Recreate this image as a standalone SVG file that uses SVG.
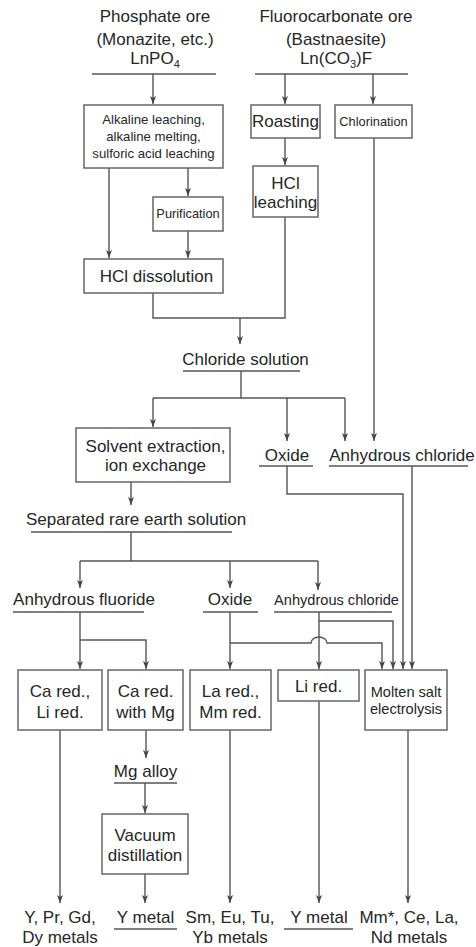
<svg xmlns="http://www.w3.org/2000/svg" width="476" height="947" viewBox="0 0 476 947">
<defs>
<style>
text{font-family:"Liberation Sans",Arial,sans-serif;fill:#262626;text-anchor:middle;font-size:17px}
.s13{font-size:13.2px}
.s12{font-size:12.8px}
.s14{font-size:14.6px}
.box{fill:#fff;stroke:#666;stroke-width:1.5}
.ln{fill:none;stroke:#555;stroke-width:1.4}
.ar{fill:none;stroke:#555;stroke-width:1.4;marker-end:url(#ah)}
</style>
<marker id="ah" viewBox="0 0 8 8" markerWidth="8" markerHeight="8" refX="8" refY="4" orient="auto" markerUnits="userSpaceOnUse">
<path d="M0,1 L8,4 L0,7 L2,4 z" fill="#444"/>
</marker>
</defs>
<rect width="476" height="947" fill="#fff"/>

<g id="connectors">
<path class="ar" d="M153,74 V104"/>
<path class="ar" d="M285,74 V104"/>
<path class="ar" d="M373,74 V104"/>
<path class="ar" d="M285,138 V165"/>
<path class="ar" d="M188,168 V196"/>
<path class="ar" d="M109,168 V258"/>
<path class="ar" d="M188,231 V258"/>
<path class="ln" d="M153,293 V318 H285 V217"/>
<path class="ar" d="M240,318 V344"/>
<path class="ln" d="M241,371 V398"/>
<path class="ln" d="M153,398 H345"/>
<path class="ar" d="M153,398 V427"/>
<path class="ar" d="M287,398 V441"/>
<path class="ar" d="M345,398 V441"/>
<path class="ar" d="M374,138 V441"/>
<path class="ar" d="M287,466 V494 H403 V669"/>
<path class="ar" d="M412,466 V669"/>
<path class="ar" d="M131,482 V505"/>
<path class="ln" d="M131,532 V561"/>
<path class="ln" d="M80,561 H318"/>
<path class="ar" d="M80,561 V588"/>
<path class="ar" d="M230,561 V588"/>
<path class="ar" d="M318,561 V590"/>
<path class="ar" d="M80,612 V669"/>
<path class="ar" d="M80,640 H146 V669"/>
<path class="ar" d="M230,612 V669"/>
<path class="ar" d="M230,643 H311 A8,6 0 0 1 327,643 H382 V669"/>
<path class="ar" d="M319,612 V669"/>
<path class="ar" d="M319,621 H393 V669"/>
<path class="ar" d="M60,730 V903"/>
<path class="ar" d="M146,730 V758"/>
<path class="ar" d="M145,783 V813"/>
<path class="ar" d="M145,874 V903"/>
<path class="ar" d="M230,730 V903"/>
<path class="ar" d="M319,701 V903"/>
<path class="ar" d="M408,730 V903"/>
</g>

<g id="phosphate">
<text x="155" y="22">Phosphate ore</text>
<text x="155" y="45">(Monazite, etc.)</text>
<text x="155" y="64">LnPO<tspan font-size="11" dy="4">4</tspan></text>
<path class="ln" d="M92,74 H216"/>
</g>
<g id="fluorocarbonate">
<text x="336" y="22">Fluorocarbonate ore</text>
<text x="336" y="45">(Bastnaesite)</text>
<text x="336" y="64">Ln(CO<tspan font-size="11" dy="4">3</tspan><tspan dy="-4">)F</tspan></text>
<path class="ln" d="M255,74 H408"/>
</g>
<g id="alkaline">
<rect class="box" x="84" y="105" width="139" height="63"/>
<text class="s13" x="153.5" y="124">Alkaline leaching,</text>
<text class="s13" x="153.5" y="141">alkaline melting,</text>
<text class="s13" x="153.5" y="158">sulforic acid leaching</text>
</g>
<g id="roasting">
<rect class="box" x="251" y="105" width="69" height="33"/>
<text x="285.5" y="127" font-size="16">Roasting</text>
</g>
<g id="chlorination">
<rect class="box" x="335" y="105" width="77" height="33"/>
<text class="s12" x="373.5" y="126">Chlorination</text>
</g>
<g id="hcl-leaching">
<rect class="box" x="253" y="166" width="65" height="51"/>
<text x="285.5" y="189" font-size="16">HCl</text>
<text x="285.5" y="208" font-size="16">leaching</text>
</g>
<g id="purification">
<rect class="box" x="153" y="197" width="70" height="34"/>
<text class="s12" x="188" y="218">Purification</text>
</g>
<g id="hcl-dissolution">
<rect class="box" x="84" y="259" width="139" height="34"/>
<text x="156.5" y="282">HCl dissolution</text>
</g>
<g id="chloride-solution">
<text x="245.5" y="365">Chloride solution</text>
<path class="ln" d="M183,371 H300"/>
</g>
<g id="solvent-extraction">
<rect class="box" x="76" y="428" width="154" height="54"/>
<text x="155.5" y="452">Solvent extraction,</text>
<text x="155.5" y="471">ion exchange</text>
</g>
<g id="oxide-1">
<text x="287" y="461">Oxide</text>
<path class="ln" d="M259,466 H313"/>
</g>
<g id="anhydrous-chloride-1">
<text x="402" y="461">Anhydrous chloride</text>
<path class="ln" d="M329,466 H468"/>
</g>
<g id="separated-solution">
<text x="136" y="525">Separated rare earth solution</text>
<path class="ln" d="M31,532 H232"/>
</g>
<g id="anhydrous-fluoride">
<text x="84" y="605">Anhydrous fluoride</text>
<path class="ln" d="M13,612 H144"/>
</g>
<g id="oxide-2">
<text x="230" y="605">Oxide</text>
<path class="ln" d="M203,612 H258"/>
</g>
<g id="anhydrous-chloride-2">
<text class="s14" x="336.5" y="605">Anhydrous chloride</text>
<path class="ln" d="M274,612 H392"/>
</g>
<g id="ca-li-red">
<rect class="box" x="18" y="670" width="84" height="60"/>
<text x="60" y="697">Ca red.,</text>
<text x="60" y="718">Li red.</text>
</g>
<g id="ca-mg-red">
<rect class="box" x="108" y="670" width="75" height="60"/>
<text x="145.5" y="697">Ca red.</text>
<text x="145.5" y="718">with Mg</text>
</g>
<g id="la-mm-red">
<rect class="box" x="190" y="670" width="81" height="60"/>
<text x="230.5" y="697">La red.,</text>
<text x="230.5" y="718">Mm red.</text>
</g>
<g id="li-red">
<rect class="box" x="278" y="670" width="81" height="31"/>
<text x="318.5" y="692">Li red.</text>
</g>
<g id="molten-salt">
<rect class="box" x="365" y="670" width="82" height="60"/>
<text class="s14" x="406" y="697">Molten salt</text>
<text class="s14" x="406" y="714">electrolysis</text>
</g>
<g id="mg-alloy">
<text x="145.5" y="777">Mg alloy</text>
<path class="ln" d="M114,783 H177"/>
</g>
<g id="vacuum-distillation">
<rect class="box" x="102" y="814" width="86" height="60"/>
<text x="145" y="841">Vacuum</text>
<text x="145" y="861">distillation</text>
</g>
<g id="out-1">
<text x="60" y="923">Y, Pr, Gd,</text>
<text x="60" y="943">Dy metals</text>
</g>
<g id="out-2">
<text x="145.5" y="923">Y metal</text>
<path class="ln" d="M114,929 H177"/>
</g>
<g id="out-3">
<text x="230" y="923">Sm, Eu, Tu,</text>
<text x="230" y="943">Yb metals</text>
</g>
<g id="out-4">
<text x="319" y="923">Y metal</text>
<path class="ln" d="M284,929 H353"/>
</g>
<g id="out-5">
<text x="409" y="923">Mm*, Ce, La,</text>
<text x="409" y="943">Nd metals</text>
</g>
</svg>
